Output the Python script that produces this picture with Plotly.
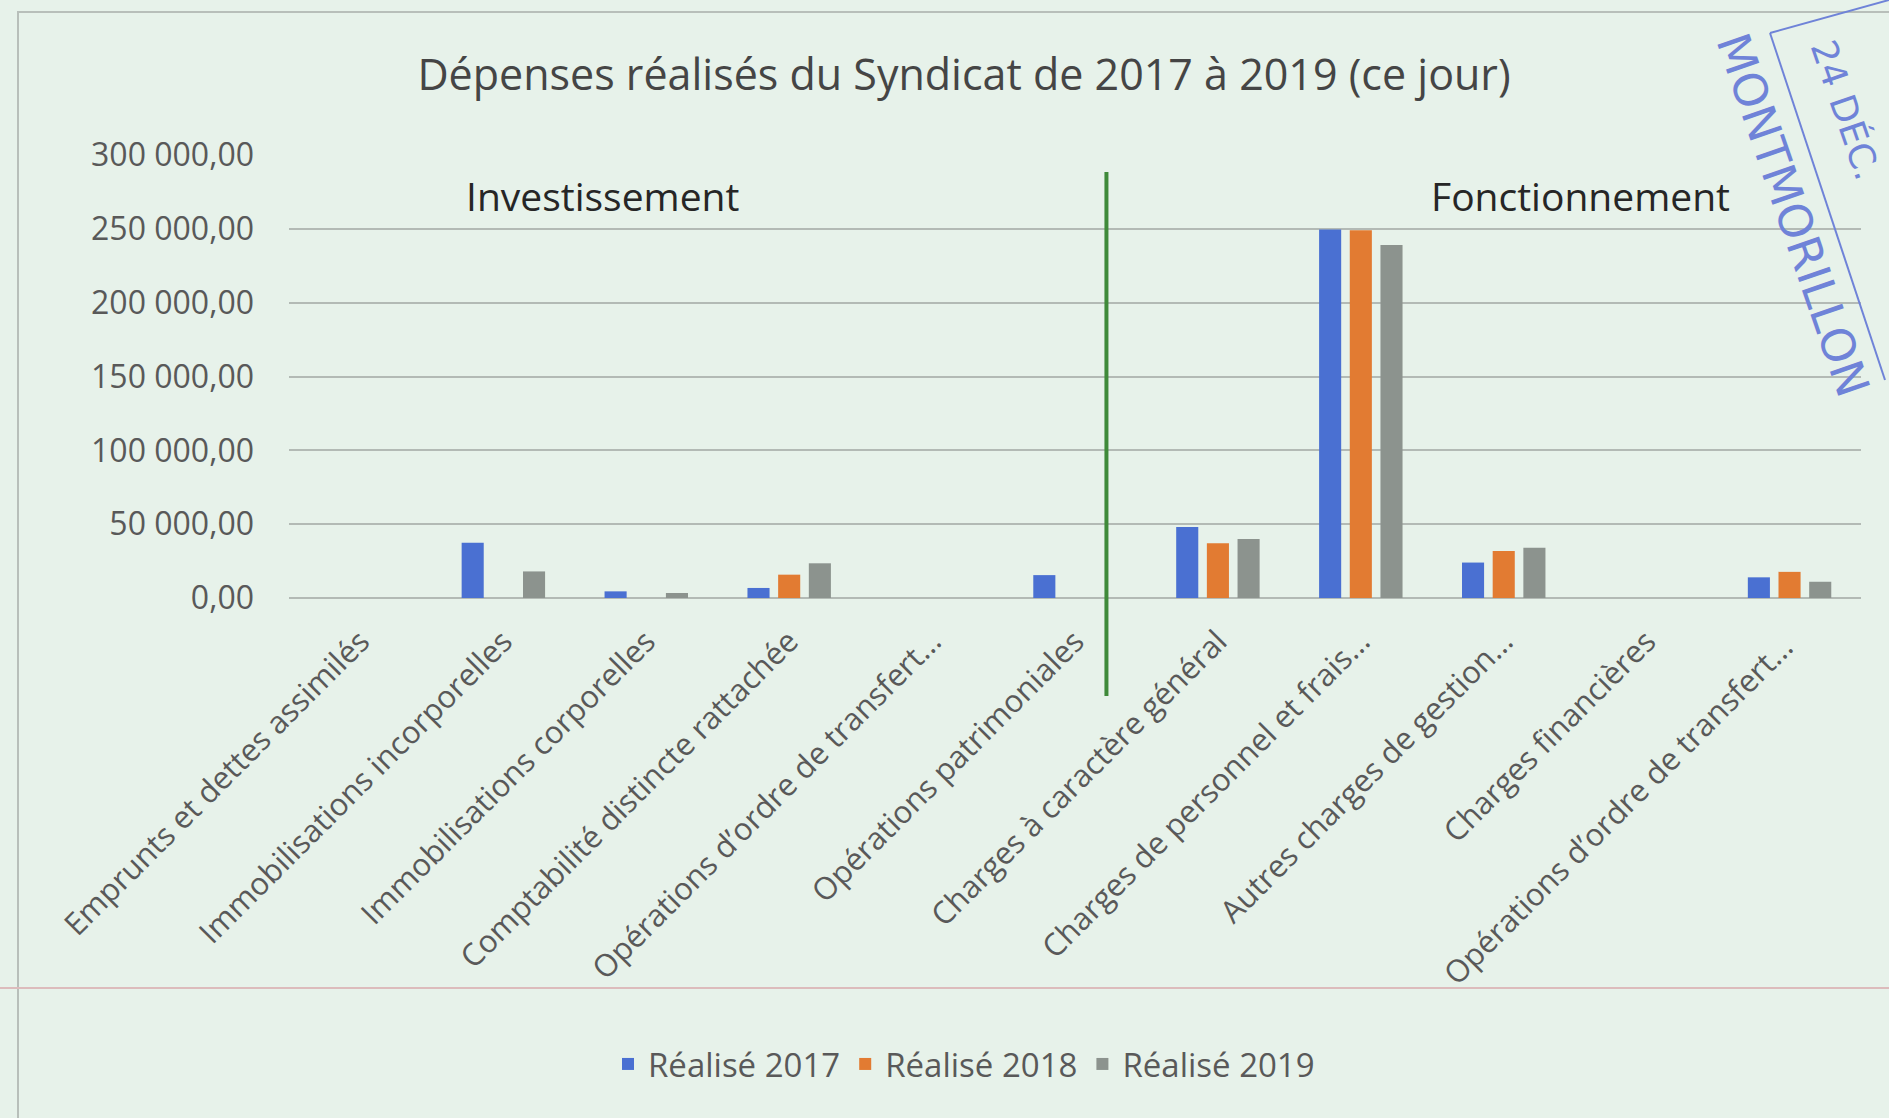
import plotly.graph_objects as go

categories = [
    "Emprunts et dettes assimilés",
    "Immobilisations incorporelles",
    "Immobilisations corporelles",
    "Comptabilité distincte rattachée",
    "Opérations d’ordre de transfert...",
    "Opérations patrimoniales",
    "Charges à caractère général",
    "Charges de personnel et frais...",
    "Autres charges de gestion...",
    "Charges financières",
    "Opérations d’ordre de transfert... ",
]
realise_2017 = [0, 37500, 4500, 6800, 0, 15500, 48000, 249500, 24000, 0, 14000]
realise_2018 = [0, 0, 0, 15800, 0, 0, 37000, 249000, 31800, 0, 17700]
realise_2019 = [0, 18000, 3400, 23500, 0, 0, 40000, 239000, 34000, 0, 11000]
series_names = ["Réalisé 2017", "Réalisé 2018", "Réalisé 2019"]
series_colors = ["#4a70d2", "#e27b32", "#8c938e"]
y_tickvals = [0, 50000, 100000, 150000, 200000, 250000, 300000]
y_ticktext = ["0,00", "50 000,00", "100 000,00", "150 000,00", "200 000,00", "250 000,00", "300 000,00"]

FONT = "Open Sans"
BG = "#e7f2ea"
TXT = "#595959"

L, T, R, B = 289, 155, 1861, 598
PW, PH = R - L, B - T


def px(xf):
    return (xf - L) / PW


def py(yf):
    return (B - yf) / PH


fig = go.Figure()
for name, vals, col in zip(series_names, [realise_2017, realise_2018, realise_2019], series_colors):
    fig.add_trace(go.Bar(x=categories, y=vals, name=name, marker=dict(color=col, line=dict(width=0))))

fig.update_layout(
    width=1889, height=1118,
    paper_bgcolor=BG, plot_bgcolor=BG,
    margin=dict(l=L, r=1889 - R, t=T, b=1118 - B),
    barmode="group", bargap=0.356, bargroupgap=0.28,
    font=dict(family=FONT, color=TXT, size=30),
    title=dict(text="Dépenses réalisés du Syndicat de 2017 à 2019 (ce jour)",
               x=964 / 1889, xanchor="center", y=1 - 75 / 1118, yanchor="middle",
               font=dict(family=FONT, size=43, color="#454545")),
    legend=dict(orientation="h", x=px(964), xanchor="center", y=py(1064), yanchor="middle",
                font=dict(family=FONT, size=33, color=TXT), bgcolor="rgba(0,0,0,0)",
                traceorder="normal"),
    showlegend=True,
)
fig.update_yaxes(range=[0, 300000], tickvals=y_tickvals, ticktext=y_ticktext,
                 showgrid=True, gridcolor="#b3bab5", gridwidth=2,
                 zeroline=True, zerolinecolor="#b3bab5", zerolinewidth=2,
                 ticklabelstandoff=34, tickfont=dict(size=32, color=TXT))
fig.update_xaxes(tickangle=-45, showline=False, ticks="", ticklabelstandoff=18,
                 tickfont=dict(size=31, color=TXT))

# divider line between sections
fig.add_shape(type="line", xref="x", yref="paper", x0=5.22, x1=5.22, y0=py(696), y1=py(172),
              line=dict(color="#3f8a3a", width=4))
fig.add_annotation(text="Investissement", xref="paper", yref="paper", xanchor="center", yanchor="middle",
                   x=px(602), y=py(195), showarrow=False,
                   font=dict(family=FONT, size=39, color="#262626"))
fig.add_annotation(text="Fonctionnement", xref="paper", yref="paper", xanchor="center", yanchor="middle",
                   x=px(1580), y=py(195), showarrow=False,
                   font=dict(family=FONT, size=39, color="#262626"))

# chart border frame
fig.add_shape(type="rect", xref="paper", yref="paper",
              x0=px(18), x1=px(1905), y0=py(1130), y1=py(12),
              line=dict(color="#b8bfba", width=2))
# page rule line
fig.add_shape(type="line", xref="paper", yref="paper",
              x0=px(0), x1=px(1889), y0=py(988), y1=py(988),
              line=dict(color="#dcbcbc", width=2))

# stamp
stamp = "#6f83d8"
fig.add_annotation(text="MONTMORILLON", xref="paper", yref="paper", xanchor="center", yanchor="middle",
                   x=px(1793), y=py(215), showarrow=False, textangle=71,
                   font=dict(family="DejaVu Sans", size=46, color=stamp))
fig.add_annotation(text="24 DÉC.", xref="paper", yref="paper", xanchor="center", yanchor="middle",
                   x=px(1845), y=py(110), showarrow=False, textangle=71,
                   font=dict(family="DejaVu Sans", size=36, color=stamp))
fig.add_shape(type="line", xref="paper", yref="paper",
              x0=px(1770), y0=py(33), x1=px(1885), y1=py(380),
              line=dict(color=stamp, width=2))
fig.add_shape(type="line", xref="paper", yref="paper",
              x0=px(1770), y0=py(33), x1=px(1889), y1=py(0),
              line=dict(color=stamp, width=2))

fig.write_html("out.html", config={"displayModeBar": False},
               post_script="document.body.style.margin='0';document.body.style.overflow='hidden';")
